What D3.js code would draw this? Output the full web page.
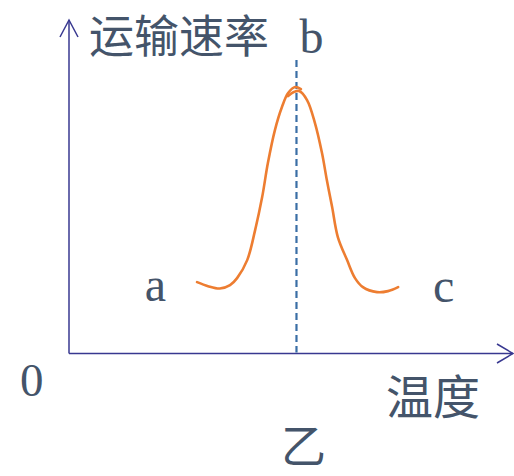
<!DOCTYPE html>
<html>
<head>
<meta charset="utf-8">
<script src="https://cdn.jsdelivr.net/npm/d3@7"></script>
<style>
  html, body { margin: 0; padding: 0; background: #fff; }
  svg { display: block; }
</style>
</head>
<body>
<svg id="chart" width="514" height="476"></svg>
<script>
// Rising branch of the transport-rate curve (temperature, rate)
const riseTemp = [29.1, 31.6, 34.3, 36.6, 38.2, 40.5, 42.3, 43.9, 45.2, 46.8, 48.4, 49.8, 51.4, 52.7];
const riseRate = [21.4, 20.2, 19.5, 20.5, 22.6, 28.0, 37.0, 46.9, 57.1, 67.0, 73.9, 78.1, 79.9, 79.3];
// Falling branch of the curve
const fallTemp = [49.8, 51.1, 52.3, 54.1, 55.9, 57.5, 58.6, 59.8, 61.1, 63.2, 65.0, 66.8, 70.0, 72.5, 74.8];
const fallRate = [77.2, 78.4, 78.7, 76.0, 69.1, 60.1, 52.0, 43.9, 34.9, 28.0, 22.6, 19.9, 18.4, 18.7, 19.9];
// Optimum temperature (point b)
const optimumTemp = 51.7;
const optimumTop = 88;
// Point labels
const pointLabels = [
  { text: "a", temp: 17.2, rate: 15.6 },
  { text: "b", temp: 52.4, rate: 90 },
  { text: "c", temp: 82.7, rate: 15.3 }
];
const yTitle = "运输速率";
const xTitle = "温度";
const originLabel = "0";
const caption = "乙";

const svg = d3.select("#chart");
const x = d3.scaleLinear().domain([0, 100]).range([69, 509]);
const y = d3.scaleLinear().domain([0, 100]).range([353.5, 20]);

const axisColor = "#383890";
const textColor = "#44546a";
const serif = "'Liberation Serif', 'DejaVu Serif', serif";
const cjk = "'Noto Sans CJK SC', sans-serif";

// Axes with open arrowheads
const x0 = x(0), y0 = y(0), xEnd = x.range()[1] + 4, yEnd = y.range()[1];
const axes = svg.append("g").attr("fill", "none").attr("stroke", axisColor)
  .attr("stroke-width", 1.5).attr("stroke-linejoin", "miter");
axes.append("path").attr("d", `M${x0},${y0}V${yEnd}`);
axes.append("path").attr("d", `M${x0 - 9},${yEnd + 17}L${x0},${yEnd}L${x0 + 9},${yEnd + 17}`);
axes.append("path").attr("d", `M${x0},${y0}H${xEnd}`);
axes.append("path").attr("d", `M${xEnd - 16},${y0 - 9.5}L${xEnd},${y0}L${xEnd - 16},${y0 + 9.5}`);

// Dashed line through the optimum
svg.append("line")
  .attr("x1", x(optimumTemp)).attr("x2", x(optimumTemp))
  .attr("y1", y(optimumTop)).attr("y2", y0 - 1)
  .attr("stroke", "#3a6ea5").attr("stroke-width", 2.2)
  .attr("stroke-dasharray", "7,4");

// Curve branches
const line = d3.line().x(d => x(d[0])).y(d => y(d[1])).curve(d3.curveCatmullRom.alpha(0.5));
const rise = riseTemp.map((t, i) => [t, riseRate[i]]);
const fall = fallTemp.map((t, i) => [t, fallRate[i]]);
svg.selectAll("path.curve").data([rise, fall]).enter().append("path")
  .attr("class", "curve")
  .attr("d", line)
  .attr("fill", "none").attr("stroke", "#ed7d31").attr("stroke-width", 2.6)
  .attr("stroke-linecap", "round");

// Point labels
svg.selectAll("text.pt").data(pointLabels).enter().append("text")
  .attr("class", "pt")
  .attr("x", d => x(d.temp)).attr("y", d => y(d.rate))
  .attr("font-family", serif).attr("font-size", 48).attr("fill", textColor)
  .text(d => d.text);

// Axis titles
svg.append("text").attr("x", 89).attr("y", 52.5)
  .attr("font-family", cjk).attr("font-size", 45).attr("fill", textColor)
  .text(yTitle);
svg.append("text").attr("x", 386).attr("y", 414)
  .attr("font-family", cjk).attr("font-size", 47).attr("fill", textColor)
  .text(xTitle);
svg.append("text").attr("x", 20).attr("y", 396)
  .attr("font-family", serif).attr("font-size", 47).attr("fill", textColor)
  .text(originLabel);
svg.append("text").attr("x", 281).attr("y", 463)
  .attr("font-family", cjk).attr("font-size", 45).attr("fill", textColor)
  .text(caption);
</script>
</body>
</html>
